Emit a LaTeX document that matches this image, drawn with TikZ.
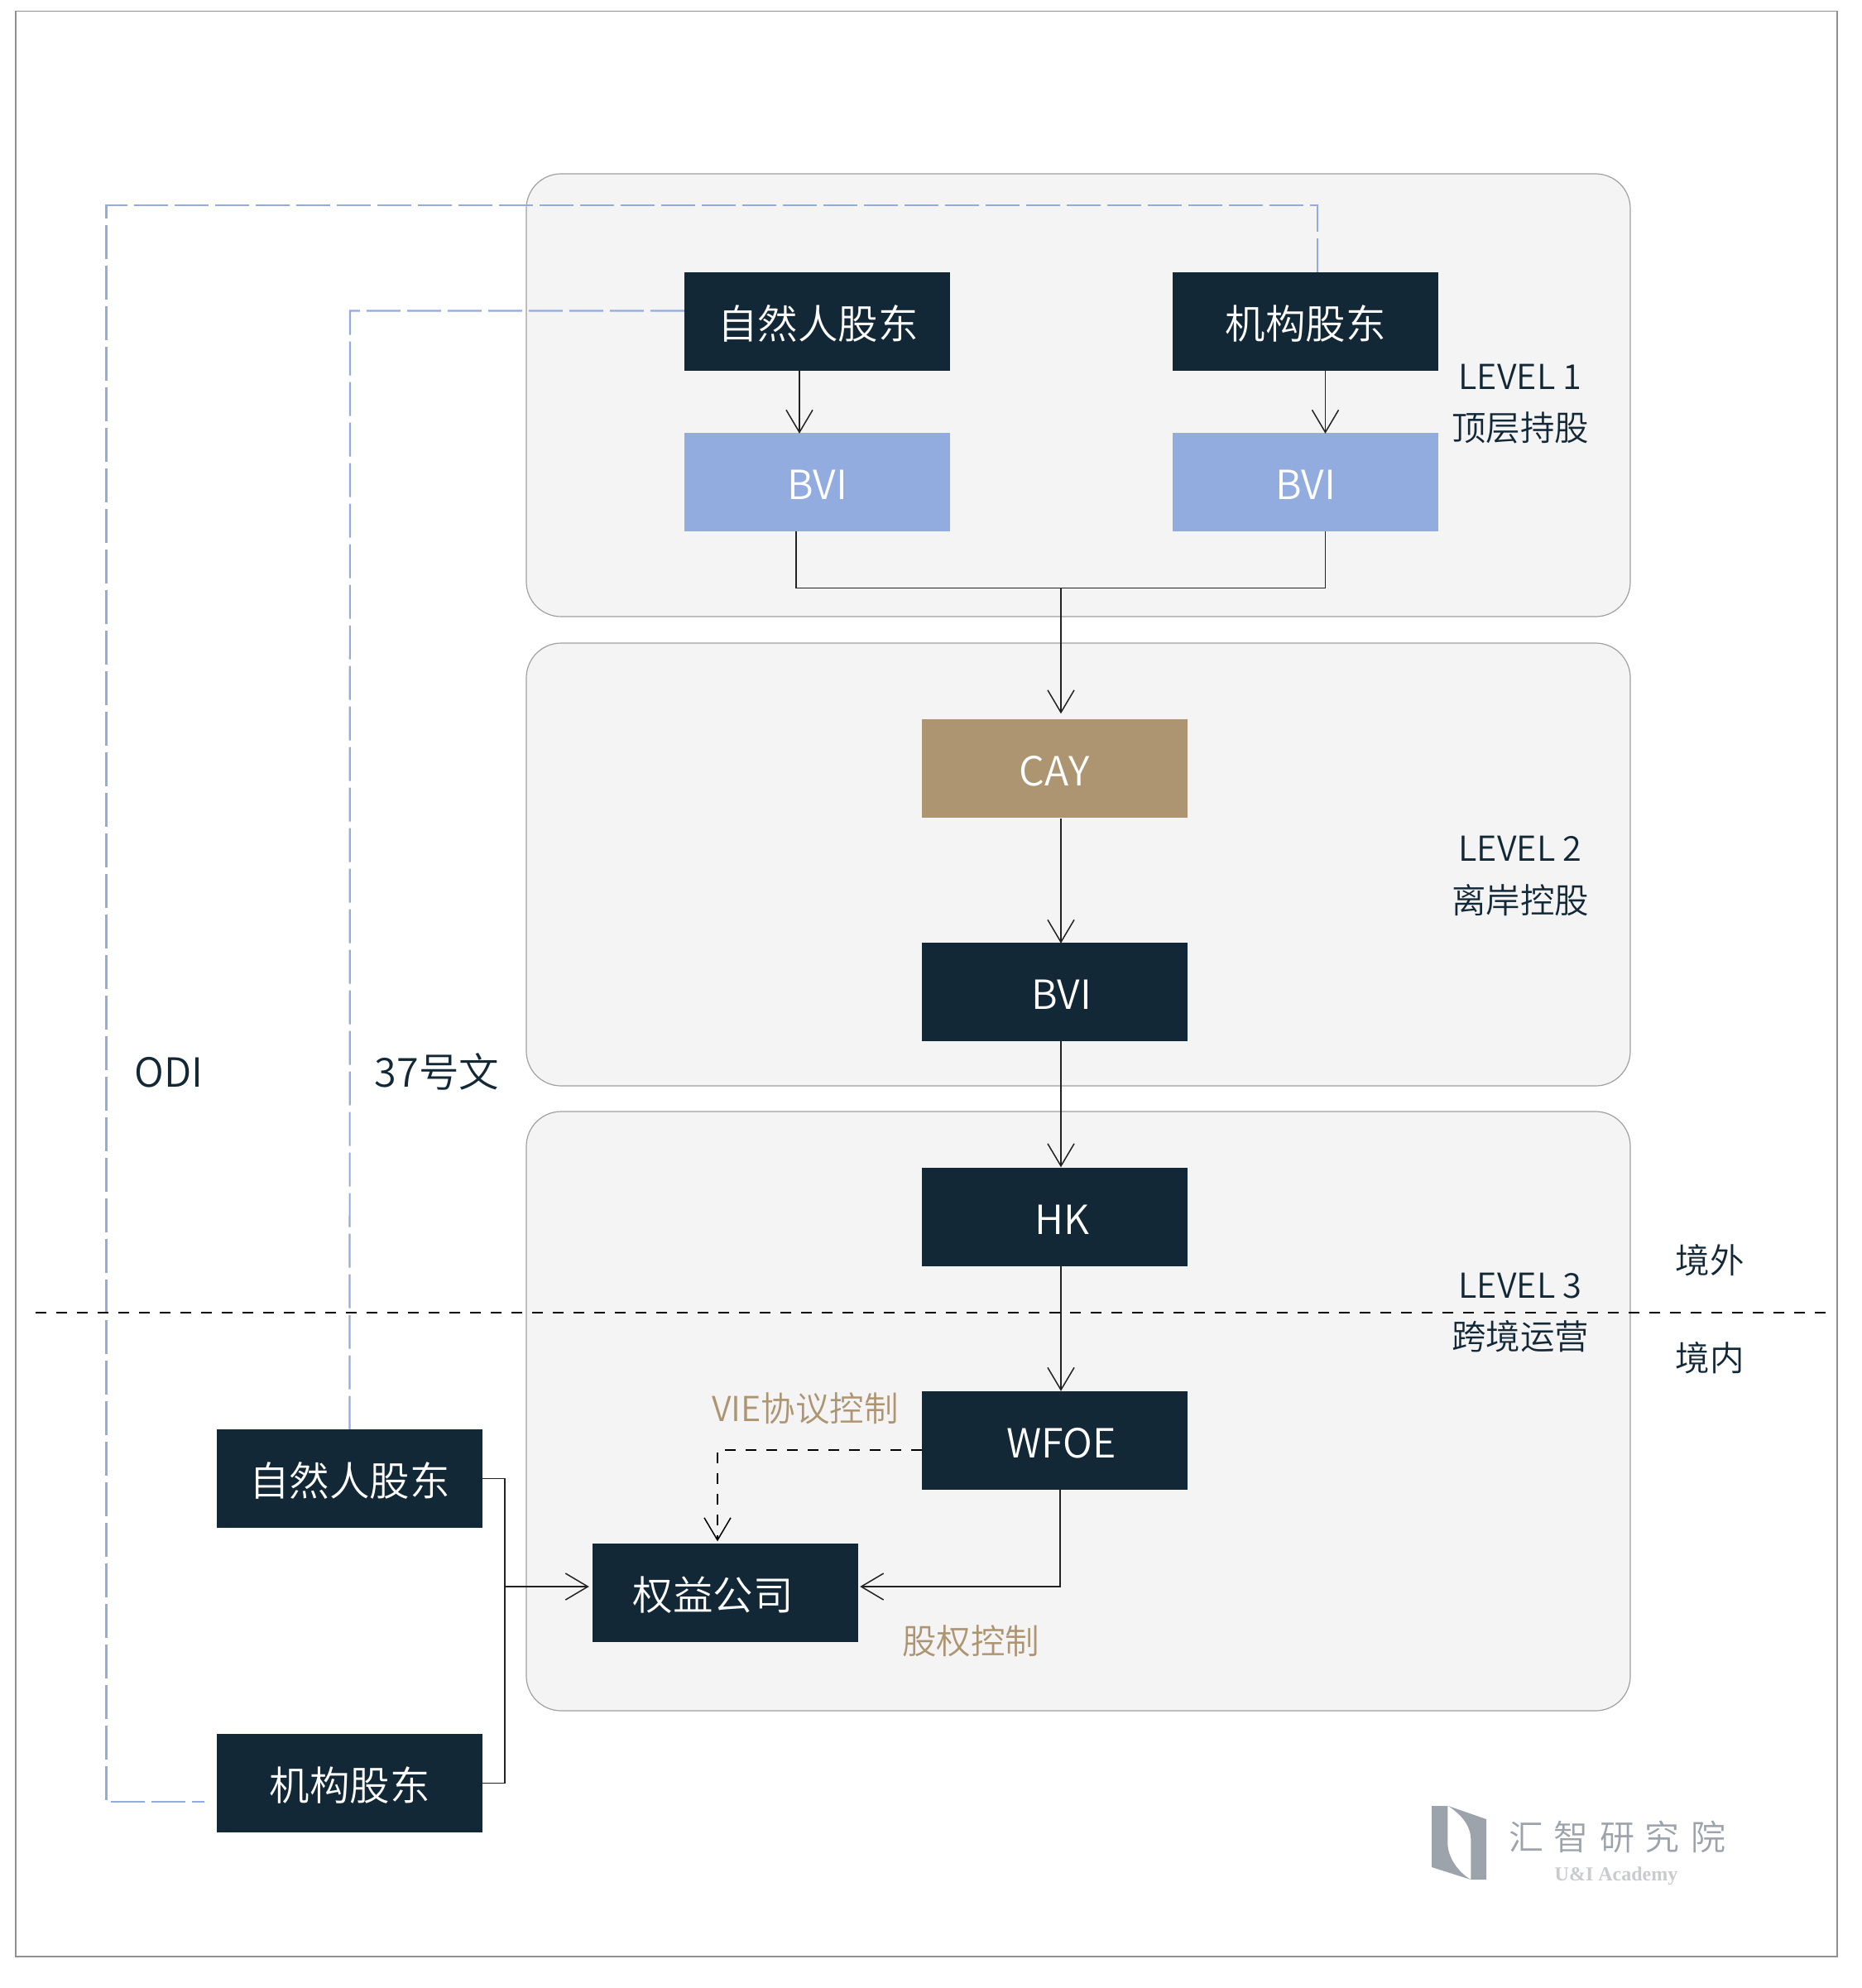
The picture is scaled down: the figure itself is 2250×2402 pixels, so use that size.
\documentclass[tikz,border=0pt]{standalone}
\usepackage{fontspec}
\setmainfont{Noto Sans CJK SC DemiLight}
\newfontfamily\logoserif{Liberation Serif}
\usetikzlibrary{arrows.meta}
\definecolor{navy}{HTML}{132837}
\definecolor{skyblue}{HTML}{92ACE0}
\definecolor{tan}{HTML}{AD9572}
\definecolor{groupbg}{HTML}{F4F4F5}
\definecolor{edgegray}{HTML}{A0A0A0}
\definecolor{logogray}{HTML}{9CA3AB}
\definecolor{logolight}{HTML}{C9CBCD}
\definecolor{linecol}{HTML}{222222}
\tikzset{
  x=1pt,y=-1pt,
  group/.style={draw=edgegray,line width=1.2pt,fill=groupbg,rounded corners=42pt},
  boxbase/.style={rectangle,minimum width=321pt,minimum height=119pt,inner sep=0pt,
     text=white,font=\fontsize{48.5}{48.5}\selectfont,text height=42pt,text depth=0pt,anchor=center},
  darkbox/.style={boxbase,fill=navy},
  bluebox/.style={boxbase,fill=skyblue},
  tanbox/.style={boxbase,fill=tan},
  conn/.style={draw=linecol,line width=1.5pt,-{Straight Barb[length=27pt,width=32pt,line width=1.5pt]}},
  plainconn/.style={draw=linecol,line width=1.5pt},
  vieconn/.style={conn,draw=black,dash pattern=on 13pt off 12pt,line width=2pt},
  border/.style={draw=black,line width=2pt,dash pattern=on 13pt off 12pt},
  regline/.style={draw=skyblue,line width=2.2pt,dash pattern=on 41pt off 8pt},
  lab/.style={anchor=base,inner sep=0pt,text=navy,font=\fontsize{41.5}{41.5}\selectfont},
  biglab/.style={lab,font=\fontsize{48.5}{48.5}\selectfont},
  tanlab/.style={lab,text=tan},
}
\begin{document}
\begin{tikzpicture}
\useasboundingbox (0,0) rectangle (2250,2402);
\fill[white] (0,0) rectangle (2250,2402);
\draw[draw=edgegray!90!black,line width=1.5pt] (19,13.5) rectangle (2220,2364);
% groups
\draw[group] (636,210) rectangle (1970,745);
\draw[group] (636,777) rectangle (1970,1312);
\draw[group] (636,1343) rectangle (1970,2067);
% boxes
\node[darkbox] (np1) at (987.5,388.5) {\hspace*{2pt}自然人股东};
\node[darkbox] (org1) at (1577.5,388.5) {机构股东};
\node[bluebox] (bvi1) at (987.5,582.5) {BVI};
\node[bluebox] (bvi2) at (1577.5,582.5) {BVI};
\node[tanbox] (cay) at (1274,928) {CAY};
\node[darkbox] (bvi3) at (1274,1198.5) {\hspace*{18pt}BVI};
\node[darkbox] (hk) at (1274,1470) {\hspace*{18pt}HK};
\node[darkbox] (wfoe) at (1274.5,1740.5) {\hspace*{16pt}WFOE};
\node[darkbox] (eq) at (876.5,1924) {权益公司\hspace*{30pt}};
\node[darkbox] (np2) at (422.5,1786.5) {自然人股东};
\node[darkbox] (org2) at (422.5,2154.5) {机构股东};
% routing coordinates
\coordinate (odiTop) at (1592,248);
\coordinate (odiLeft) at (128.5,248);
\coordinate (odiBot) at (128.5,2177);
\coordinate (odiEnd) at (247,2177);
\coordinate (lawY) at (423,375.5);
\coordinate (ch1) at (966,0);
\coordinate (ch2) at (1601.5,0);
\coordinate (ch3) at (962,710.5);
\coordinate (ch4) at (1601.5,710.5);
\coordinate (mid) at (1282,710.5);
\coordinate (vieY) at (867,1751.5);
\coordinate (jn) at (610,1917);
\coordinate (jnTop) at (610,1786.5);
\coordinate (jnBot) at (610,2154.5);
\coordinate (eqY) at (1281,1917);
% blue regulation lines
\draw[regline] (org1.north -| odiTop) -- (odiTop) -- (odiLeft) -- (odiBot) -- (odiEnd);
\draw[regline] (np1.west |- lawY) -- (lawY) -- (np2.north);
% connectors
\draw[conn,shorten >=-1pt] (np1.south -| ch1) -- (bvi1.north -| ch1);
\draw[conn,shorten >=-1pt] (org1.south -| ch2) -- (bvi2.north -| ch2);
\draw[plainconn] (bvi1.south -| ch3) -- (ch3) -- (ch4) -- (bvi2.south -| ch4);
\draw[conn,shorten >=6pt] (mid) -- (cay.north -| mid);
\draw[conn,shorten >=-1pt,shorten <=1pt] (cay.south -| mid) -- (bvi3.north -| mid);
\draw[conn] (bvi3.south -| mid) -- (hk.north -| mid);
\draw[conn] (hk.south -| mid) -- (wfoe.north -| mid);
\draw[vieconn,shorten >=2pt] (wfoe.west |- vieY) -- (vieY) -- (eq.north -| vieY);
\draw[conn,shorten >=2pt] (wfoe.south -| eqY) -- (eqY) -- (eq.east |- eqY);
\draw[plainconn] (np2.east |- jnTop) -- (jnTop) -- (jnBot) -- (org2.east |- jnBot);
\draw[conn,shorten >=4pt] (jn) -- (eq.west |- jn);
% border line
\coordinate (bL) at (43,1586.4);
\coordinate (bR) at (2210,1586.4);
\draw[border] (bL) -- (bR);
% labels
\node[lab] (l1) at (1837,470) {LEVEL 1};
\node[lab] (l1b) at (1837,532) {顶层持股};
\node[lab] (l2) at (1837,1040) {LEVEL 2};
\node[lab] (l2b) at (1837,1103) {离岸控股};
\node[lab] (l3) at (1837,1568) {LEVEL 3};
\node[lab] (l3b) at (1837,1630) {跨境运营};
\node[lab] (out) at (2066,1538.5) {境外};
\node[lab] (in) at (2066,1656.5) {境内};
\node[biglab] (odi) at (204,1313) {ODI};
\node[biglab] (n37) at (528,1313) {37号文};
\node[tanlab] (vie) at (973,1717) {VIE协议控制};
\node[tanlab] (eqc) at (1173,1998.5) {股权控制};
% logo
\fill[logogray] (1730,2182) -- (1749.3,2182) -- (1749.3,2228) .. controls (1750,2245) and (1762,2262) .. (1777.3,2271) -- (1730,2256) -- cycle;
\fill[logogray] (1750,2182) -- (1796,2198) -- (1796,2271) -- (1777.3,2271) -- (1777.3,2222) .. controls (1777,2205) and (1765,2192) .. (1750,2182) -- cycle;
\node[anchor=base,inner sep=0pt,text=logogray,font=\fontsize{42}{42}\selectfont] (lg) at (1954,2235) {汇\hspace{13pt}智\hspace{13pt}研\hspace{13pt}究\hspace{13pt}院};
\node[anchor=base,inner sep=0pt,text=logolight,font=\logoserif\bfseries\fontsize{24}{24}\selectfont] (lgen) at (1953,2272) {U\&I Academy};
\end{tikzpicture}
\end{document}
